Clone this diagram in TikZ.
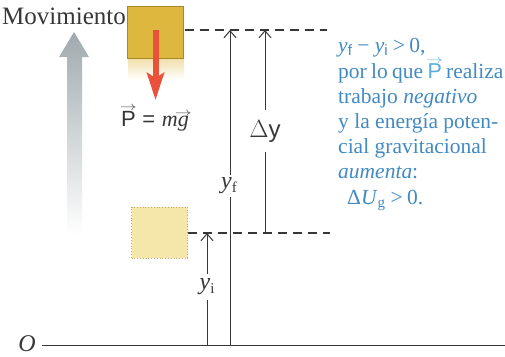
\documentclass[tikz,border=0pt]{standalone}
\usepackage{fontspec}
\setmainfont{Liberation Serif}
\setsansfont{Liberation Sans}
\usetikzlibrary{arrows.meta}
\definecolor{txtblue}{RGB}{65,138,195}
\definecolor{pblue}{RGB}{90,170,220}
\definecolor{gold}{RGB}{222,183,62}
\definecolor{goldedge}{RGB}{170,135,40}
\definecolor{paleyellow}{RGB}{245,230,170}
\definecolor{paleedge}{RGB}{195,170,100}
\definecolor{redarrow}{RGB}{232,82,58}
\definecolor{greyarrow}{RGB}{160,170,174}
\definecolor{linegrey}{RGB}{55,55,55}
\newcommand\vv[2][1pt]{{\setbox0\hbox{#2}\makebox[0pt][l]{\raisebox{\dimexpr\ht0+#1}[0pt][0pt]{\makebox[\wd0]{\scalebox{0.8}[0.6]{$\rightarrow$}}}}\box0}}
\newcommand\sbs[1]{\raisebox{-0.35ex}[0pt][0pt]{\fontsize{15}{15}\selectfont #1}}
\tikzset{
  bluetext/.style={text=txtblue, font=\fontsize{21.5}{25}\selectfont, anchor=base west, inner sep=0pt},
  dimline/.style={draw=linegrey, line width=1pt},
  dimarrow/.style={dimline, -{Straight Barb[length=7pt,width=12pt,line width=1pt]}},
  levelline/.style={draw=linegrey, line width=1.7pt, dash pattern=on 9pt off 6pt},
  dimlabel/.style={fill=white, inner sep=2pt, text=linegrey},
}
\begin{document}
\begin{tikzpicture}[x=1pt,y=-1pt]
\useasboundingbox[fill=white] (0,0) rectangle (505,356);

% grey motion arrow
\shade[top color=greyarrow, bottom color=white]
  (67,235) -- (67,57) -- (59,57) -- (74,32) -- (89,57) -- (82,57) -- (82,235) -- cycle;

% faint glow under top block
\shade[top color=gold!45, bottom color=white] (128,58) rectangle (184,80);

% blocks
\node[draw=goldedge, fill=gold, line width=0.8pt, minimum width=56pt, minimum height=52pt, inner sep=0pt] (blockf) at (155.5,32) {};
\node[draw=paleedge, fill=paleyellow, line width=0.8pt, dotted, minimum width=56pt, minimum height=51pt, inner sep=0pt] (blocki) at (159.5,232.5) {};

% weight arrow
\coordinate (wtop) at (155.5,30);
\coordinate (wtip) at (155.5,100);
\draw[redarrow, line width=6pt, -{Stealth[length=27pt,width=17pt,inset=5pt]}] (wtop) -- (wtip);
\node[font=\fontsize{22}{24}\selectfont, text=linegrey] (plabel) at (155,121) {\sffamily\vv{P}\hspace{0.3em}=\hspace{0.3em}\rmfamily\textit{m}\vv[-1pt]{\textit{g}}};

% labels left
\node[anchor=base west, inner sep=0pt, font=\fontsize{25}{26}\selectfont, text=linegrey] (mov) at (2,24) {Movimiento};

% level lines
\coordinate (topl) at (185,30);
\coordinate (topr) at (327,30);
\coordinate (botl) at (188,233);
\coordinate (botr) at (330,233);
\draw[levelline] (topl) -- (topr);
\draw[levelline] (botl) -- (botr);

% axis
\coordinate (axl) at (42,345);
\coordinate (axr) at (505,345);
\draw[dimline] (axl) -- (axr);
\node[font=\fontsize{24}{24}\selectfont\itshape, text=linegrey] (O) at (27,344) {O};

% vertical arrows
\coordinate (fbase) at (230,345);
\coordinate (ftop) at (230,30);
\draw[dimarrow] (fbase) -- (ftop);
\node[dimlabel, font=\fontsize{24}{24}\selectfont, inner ysep=3pt, inner xsep=1pt] (yf) at (229,186) {\textit{y}\sbs{f}};

\coordinate (ibase) at (207,345);
\coordinate (itop) at (207,233);
\draw[dimarrow] (ibase) -- (itop);
\node[dimlabel, font=\fontsize{24}{24}\selectfont, inner ysep=5pt, inner xsep=1pt] (yi) at (207,287) {\textit{y}\sbs{i}};

\coordinate (dbase) at (265,233);
\coordinate (dtop) at (265,30);
\draw[dimarrow] (dbase) -- (dtop);
\node[dimlabel, font=\fontsize{24}{24}\selectfont\sffamily, inner ysep=10pt, inner xsep=1pt] (dy) at (265,131) {$\Delta$y};

% explanatory text
\node[bluetext] (t1) at (338,52) {\textit{y}\sbs{\sffamily f}\hspace{0.25em}−\hspace{0.25em}\textit{y}\sbs{\sffamily i}\hspace{0.25em}>\hspace{0.2em}0,};
\node[bluetext] (t2) at (338,78) {\spaceskip=0.2em\relax por lo que \textcolor{pblue}{\sffamily\vv[-0.5pt]{P}} realiza};
\node[bluetext] (t3) at (338,103) {trabajo \textit{negativo}};
\node[bluetext] (t4) at (338,128) {y la energía poten-};
\node[bluetext] (t5) at (338,153) {cial gravitacional};
\node[bluetext] (t6) at (338,178) {\textit{aumenta}:};
\node[bluetext] (t7) at (347,204) {Δ\textit{U}\sbs{g}\hspace{0.25em}>\hspace{0.2em}0.};
\end{tikzpicture}
\end{document}
